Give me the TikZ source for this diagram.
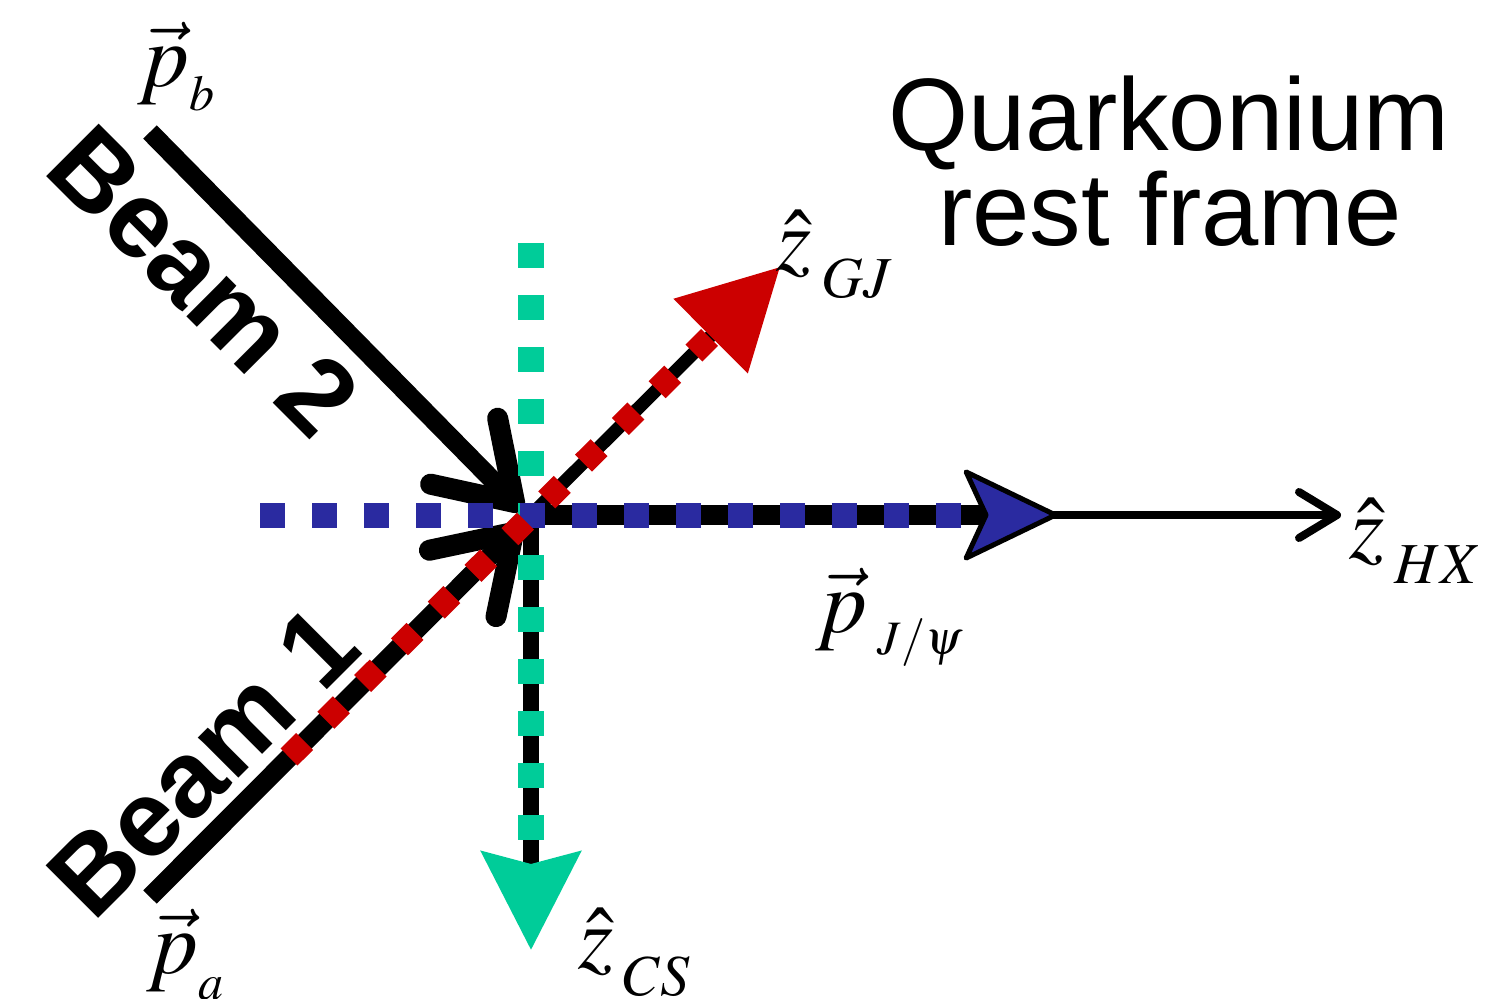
\documentclass[tikz,border=0pt]{standalone}
\usepackage{mathptmx}
\usepackage[no-math]{fontspec}
\newfontfamily\hel{Liberation Sans}
\usetikzlibrary{arrows.meta}
\definecolor{gjred}{RGB}{204,0,0}
\definecolor{csgreen}{RGB}{0,204,153}
\definecolor{pblue}{RGB}{42,42,160}
\newcommand\lowsub[3]{\raisebox{-#1}{\fontsize{#2}{#2}\selectfont$#3$}}
\begin{document}
\begin{tikzpicture}[x=1pt,y=-1pt,
  lab/.style={inner sep=0pt,anchor=base west,font=\fontsize{90pt}{90pt}\selectfont},
  beamlab/.style={inner sep=0pt,font=\hel\bfseries\fontsize{108pt}{108pt}\selectfont},
  titlelab/.style={inner sep=0pt,anchor=base,font=\hel\fontsize{103pt}{103pt}\selectfont},
  beamline/.style={line width=19pt,-{Straight Barb[length=72pt,width=94pt,line width=21pt,round]}},
  reddots/.style={gjred,line width=24pt,dash pattern=on 22pt off 30pt},
  greendots/.style={csgreen,line width=26pt,dash pattern=on 25pt off 27pt},
  bluedots/.style={pblue,line width=25pt,dash pattern=on 25pt off 27pt}]
\fill[white] (0,0) rectangle (1503,998);
\useasboundingbox (0,0) rectangle (1503,998);
% key points
\coordinate (O) at (531,515);
\coordinate (b2s) at (150,132);
\coordinate (b2e) at (522,510);
\coordinate (b1s) at (150,897);
\coordinate (b1e) at (521,525);
\coordinate (gjtip) at (780,267);
\coordinate (gjbase) at (711,336);
\coordinate (reds) at (289,757);
\coordinate (cstip) at (531,950);
\coordinate (greens) at (531,243);
\coordinate (greene) at (531,842);
\coordinate (blues) at (260,515);
\coordinate (bluee) at (961,515);
\coordinate (pjtip) at (1058,515);
\coordinate (hxtip) at (1341,515);
% black lines
\draw[beamline] (b2s) -- (b2e);
\draw[beamline] (b1s) -- (b1e);
\draw[line width=8pt,-{Straight Barb[length=38pt,width=46pt,round]}] (O) -- (hxtip);
\draw[line width=20pt,-{Stealth[length=100pt,width=96pt,inset=22pt,line width=5pt,round,color=black,fill=pblue]}] (O) -- (pjtip);
\draw[line width=16pt,-{Stealth[length=98pt,width=98pt,inset=12pt,color=csgreen,fill=csgreen]}] (O) -- (cstip);
\draw[line width=13pt,-{Triangle[length=98pt,width=102pt,color=gjred,fill=gjred]}] (O) -- (gjtip);
% coloured dotted overlays
\draw[greendots] (greens) -- (greene);
\draw[bluedots] (blues) -- (bluee);
\draw[reddots] (reds) -- (gjbase);
% labels
\node[beamlab,rotate=-45] (beam2) at (204,281) {Beam 2};
\node[beamlab,rotate=45] (beam1) at (203,762) {Beam 1};
\node[titlelab] (title1) at (1169,150) {Quarkonium};
\node[titlelab] (title2) at (1170,245) {rest frame};
\node[lab] (pb) at (138,86) {$\vec{p}\lowsub{24pt}{50pt}{b}$};
\node[lab] (pa) at (147,973) {$\vec{p}\lowsub{26pt}{50pt}{a}$};
\node[lab] (zgj) at (776,270) {$\hat{z}\,\lowsub{27pt}{58pt}{GJ}$};
\node[lab] (zhx) at (1349,558) {$\hat{z}\,\lowsub{25pt}{58pt}{HX}$};
\node[lab] (zcs) at (578,968) {$\hat{z}\,\lowsub{27pt}{58pt}{CS}$};
\node[lab] (pjpsi) at (816,632) {$\vec{p}\,\lowsub{22pt}{48pt}{J/\psi}$};
\end{tikzpicture}
\end{document}
